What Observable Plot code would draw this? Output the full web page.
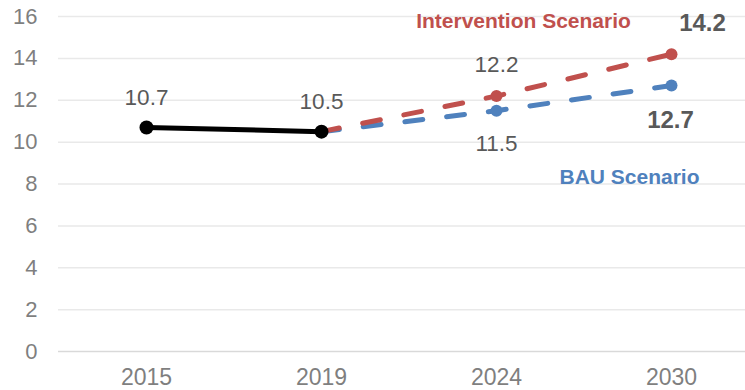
<!DOCTYPE html>
<html><head><meta charset="utf-8">
<script src="https://cdn.jsdelivr.net/npm/d3@7"></script>
<script src="https://cdn.jsdelivr.net/npm/@observablehq/plot@0.6"></script>
<style>
body{margin:0;background:#fff;}
svg{font-family:"Liberation Sans",Arial,sans-serif;}
</style></head><body><div id="chart"></div>
<script>
const years = ["2015","2019","2024","2030"];
const historyYears = ["2015","2019"];
const historyValues = [10.7, 10.5];
const scenarioYears = ["2019","2024","2030"];
const bauValues = [10.5, 11.5, 12.7];
const interventionValues = [10.5, 12.2, 14.2];
const yTicks = [0,2,4,6,8,10,12,14,16];

const hist = historyYears.map((y,i)=>({year:y, value:historyValues[i]}));
const bau = scenarioYears.map((y,i)=>({year:y, value:bauValues[i]}));
const inter = scenarioYears.map((y,i)=>({year:y, value:interventionValues[i]}));

const RED = "#C0504D", BLUE = "#4F81BD", LBL = "#595959";

const plot = Plot.plot({
  width: 745, height: 390,
  marginTop: 16, marginBottom: 39, marginLeft: 58, marginRight: 0,
  style: {fontFamily: '"Liberation Sans", Arial, sans-serif', background: "#fff"},
  x: {type: "point", domain: years, range: [145.5, 670.5], padding: 0},
  y: {domain: [0,16], ticks: yTicks},
  marks: [
    Plot.gridY(yTicks.filter(d=>d>0), {stroke: "#e9e9e9", strokeOpacity: 1, strokeWidth: 1.5}),
    Plot.ruleY([0], {stroke: "#d9d9d9", strokeWidth: 1.5}),
    Plot.axisY(yTicks, {tickSize: 0, tickPadding: 21, fontSize: 22, fill: "#7f7f7f", label: null}),
    Plot.axisX({tickSize: 0, tickPadding: 17, fontSize: 23, fill: "#7f7f7f", label: null}),
    Plot.line(bau, {x: "year", y: "value", stroke: BLUE, strokeWidth: 5, strokeDasharray: "18,24", strokeLinecap: "round"}),
    Plot.line(inter, {x: "year", y: "value", stroke: RED, strokeWidth: 5, strokeDasharray: "18,24", strokeLinecap: "round"}),
    Plot.dot(bau.slice(1), {x: "year", y: "value", r: 6, fill: BLUE}),
    Plot.dot(inter.slice(1), {x: "year", y: "value", r: 6, fill: RED}),
    Plot.line(hist, {x: "year", y: "value", stroke: "#000", strokeWidth: 5}),
    Plot.dot(hist, {x: "year", y: "value", r: 7, fill: "#000"}),
    Plot.text(hist, {x: "year", y: "value", text: d=>d.value.toFixed(1), dy: -30, fontSize: 22.5, fill: LBL}),
    Plot.text(inter.slice(1,2), {x: "year", y: "value", text: d=>d.value.toFixed(1), dy: -31, fontSize: 22.5, fill: LBL}),
    Plot.text(bau.slice(1,2), {x: "year", y: "value", text: d=>d.value.toFixed(1), dy: 33, fontSize: 22.5, fill: LBL}),
    Plot.text(inter.slice(2), {x: "year", y: "value", text: d=>d.value.toFixed(1), dx: 31, dy: -31, fontSize: 24, fontWeight: "bold", fill: LBL}),
    Plot.text(bau.slice(2), {x: "year", y: "value", text: d=>d.value.toFixed(1), dx: -1, dy: 35, fontSize: 24, fontWeight: "bold", fill: LBL}),
    Plot.text(inter.slice(2), {x: "year", y: "value", text: ()=>"Intervention Scenario", dx: -148, dy: -33, fontSize: 21, fontWeight: "bold", fill: RED}),
    Plot.text(bau.slice(2), {x: "year", y: "value", text: ()=>"BAU Scenario", dx: -42, dy: 92, fontSize: 21, fontWeight: "bold", fill: BLUE})
  ]
});
document.getElementById("chart").appendChild(plot);
</script></body></html>
